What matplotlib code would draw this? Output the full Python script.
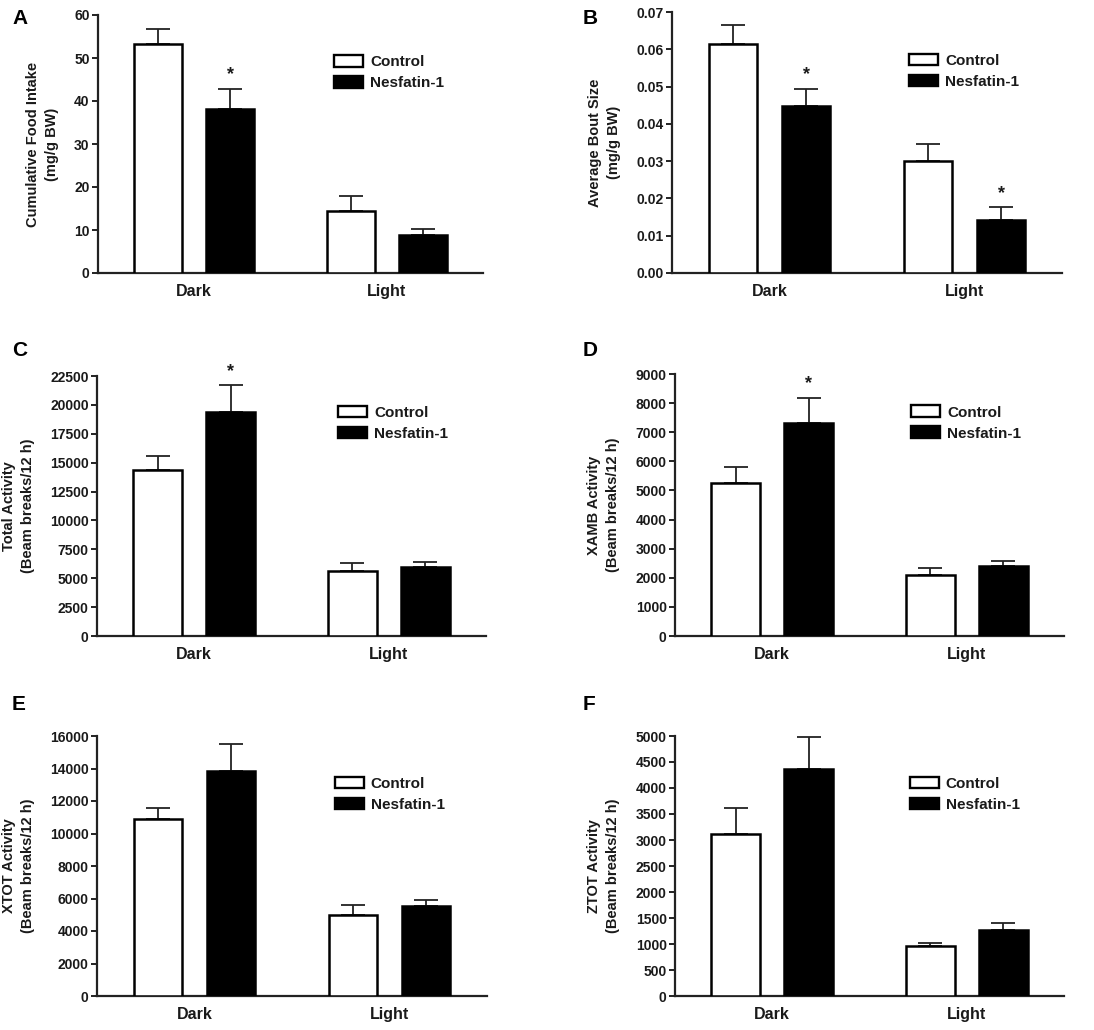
import matplotlib
matplotlib.use("Agg")
import matplotlib.pyplot as plt
import numpy as np
from matplotlib.patches import Patch

plt.rcParams['font.family'] = ['Liberation Sans', 'DejaVu Sans']
plt.rcParams['font.weight'] = 'bold'

groups = ["Dark", "Light"]
series_names = ["Control", "Nesfatin-1"]

# Panel A
A_control = [53.2, 14.4]
A_control_err = [3.5, 3.5]
A_nesf = [38.2, 8.8]
A_nesf_err = [4.7, 1.4]
A_sig = [True, False]
# Panel B
B_control = [0.0614, 0.0300]
B_control_err = [0.0050, 0.0046]
B_nesf = [0.0448, 0.0142]
B_nesf_err = [0.0046, 0.0034]
B_sig = [True, True]
# Panel C
C_control = [14400, 5600]
C_control_err = [1200, 690]
C_nesf = [19350, 5970]
C_nesf_err = [2340, 430]
C_sig = [True, False]
# Panel D
D_control = [5270, 2080]
D_control_err = [530, 260]
D_nesf = [7320, 2400]
D_nesf_err = [860, 170]
D_sig = [True, False]
# Panel E
E_control = [10920, 4980]
E_control_err = [680, 610]
E_nesf = [13850, 5550]
E_nesf_err = [1640, 330]
E_sig = [False, False]
# Panel F
F_control = [3110, 960]
F_control_err = [510, 50]
F_nesf = [4370, 1270]
F_nesf_err = [620, 130]
F_sig = [False, False]

ylabels = {
    "A": "Cumulative Food Intake\n(mg/g BW)",
    "B": "Average Bout Size\n(mg/g BW)",
    "C": "Total Activity\n(Beam breaks/12 h)",
    "D": "XAMB Activity\n(Beam breaks/12 h)",
    "E": "XTOT Activity\n(Beam breaks/12 h)",
    "F": "ZTOT Activity\n(Beam breaks/12 h)",
}
yticks = {
    "A": (0, 60, 10, "{:.0f}"),
    "B": (0, 0.07, 0.01, "{:.2f}"),
    "C": (0, 22500, 2500, "{:.0f}"),
    "D": (0, 9000, 1000, "{:.0f}"),
    "E": (0, 16000, 2000, "{:.0f}"),
    "F": (0, 5000, 500, "{:.0f}"),
}

panels = {
    "A": (A_control, A_control_err, A_nesf, A_nesf_err, A_sig),
    "B": (B_control, B_control_err, B_nesf, B_nesf_err, B_sig),
    "C": (C_control, C_control_err, C_nesf, C_nesf_err, C_sig),
    "D": (D_control, D_control_err, D_nesf, D_nesf_err, D_sig),
    "E": (E_control, E_control_err, E_nesf, E_nesf_err, E_sig),
    "F": (F_control, F_control_err, F_nesf, F_nesf_err, F_sig),
}

W, H = 1094, 1030
# axes boxes in pixels: left, right, top, bottom
boxes = {
    "A": (98, 483, 15, 273),
    "B": (672, 1062, 12, 273),
    "C": (97, 486, 376, 636),
    "D": (675, 1064, 374, 636),
    "E": (97, 487, 736, 996),
    "F": (675, 1064, 736, 996),
}
legpos = {
    "A": (0.613, 0.777),
    "B": (0.608, 0.773),
    "C": (0.62, 0.818),
    "D": (0.607, 0.813),
    "E": (0.61, 0.776),
    "F": (0.604, 0.776),
}
letterpos = {
    "A": (12, 18), "B": (583, 18),
    "C": (12, 350), "D": (583, 350),
    "E": (12, 704), "F": (583, 704),
}

fig = plt.figure(figsize=(W / 100, H / 100), dpi=100)
x = np.arange(len(groups))
bw = 0.25
off = 0.1875
txtc = '#1a1a1a'

for key, (ctl, ctl_e, nes, nes_e, sig) in panels.items():
    l, r, t, b = boxes[key]
    ax = fig.add_axes([l / W, 1 - b / H, (r - l) / W, (b - t) / H])
    ax.bar(x - off, ctl, bw, color='white', edgecolor='black', linewidth=1.8, zorder=3)
    ax.bar(x + off, nes, bw, color='black', edgecolor='black', linewidth=1.8, zorder=3)
    ax.errorbar(x - off, ctl, yerr=[np.zeros(len(ctl)), ctl_e], fmt='none',
                ecolor='#222222', elinewidth=1.3, capsize=8.5, capthick=1.3, zorder=2)
    ax.errorbar(x + off, nes, yerr=[np.zeros(len(nes)), nes_e], fmt='none',
                ecolor='#222222', elinewidth=1.3, capsize=8.5, capthick=1.3, zorder=2)
    for i, s in enumerate(sig):
        if s:
            ax.annotate('*', (x[i] + off, nes[i] + nes_e[i]), xytext=(0, 4),
                        textcoords='offset points', ha='center', va='bottom',
                        fontsize=13, fontweight='bold', color=txtc)
    y0, y1, st, fmt = yticks[key]
    ticks = np.arange(y0, y1 + st / 2, st)
    ax.set_ylim(y0, y1)
    ax.set_yticks(ticks)
    ax.set_yticklabels([fmt.format(v) for v in ticks], fontsize=10, fontweight='bold', color=txtc)
    ax.set_xlim(-0.5, 1.5)
    ax.set_xticks(x)
    ax.set_xticklabels(groups, fontsize=11.5, fontweight='bold', color=txtc)
    ax.tick_params(axis='x', length=0, pad=8)
    ax.tick_params(axis='y', direction='out', length=4, width=1.4, pad=2, color='#222222')
    for sp in ['top', 'right']:
        ax.spines[sp].set_visible(False)
    for sp in ['left', 'bottom']:
        ax.spines[sp].set_linewidth(1.6)
        ax.spines[sp].set_color('#222222')
    ax.set_ylabel(ylabels[key], fontsize=10.5, fontweight='bold', color=txtc, labelpad=11,
                  linespacing=1.45)
    handles = [Patch(facecolor='white', edgecolor='black', linewidth=1.7, label=series_names[0]),
               Patch(facecolor='black', edgecolor='black', linewidth=1.7, label=series_names[1])]
    lx, ly = legpos[key]
    ax.legend(handles=handles, loc='center left', bbox_to_anchor=(lx, ly), frameon=False,
              borderpad=0, borderaxespad=0, handlelength=1.9, handleheight=0.8,
              handletextpad=0.45, labelspacing=0.45,
              prop={'size': 11, 'weight': 'bold'}, labelcolor=txtc)
    lxp, lyp = letterpos[key]
    fig.text(lxp / W, 1 - lyp / H, key, fontsize=15, fontweight='bold', color='black',
             ha='left', va='center')

fig.savefig('out.png', dpi=100)
